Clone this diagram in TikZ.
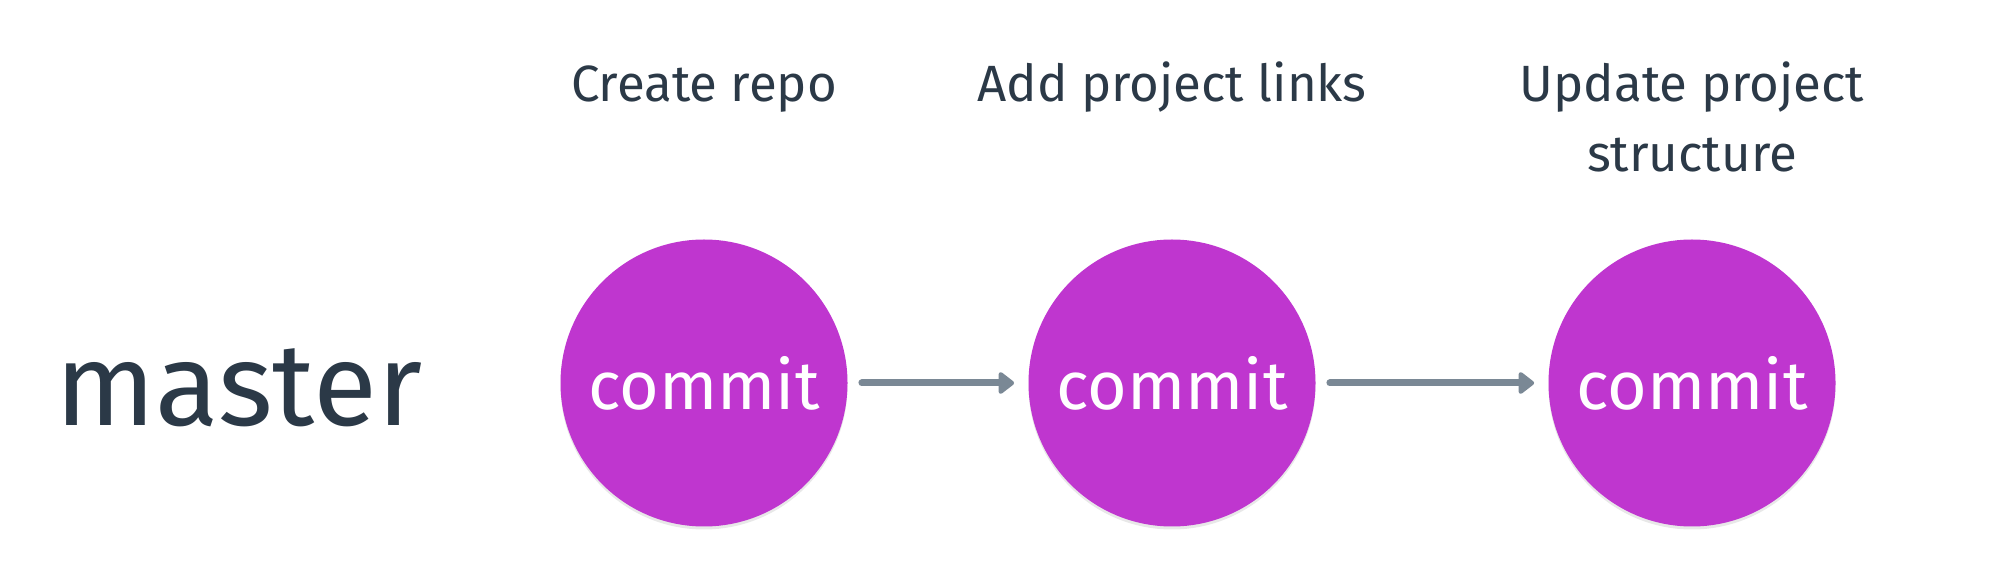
\documentclass[tikz,border=0pt]{standalone}
\usepackage{fontspec}
\setmainfont{Fira Sans}
\usetikzlibrary{arrows.meta,shadows}
\definecolor{commitpurple}{HTML}{BF36CF}
\definecolor{inkdark}{HTML}{2B3947}
\definecolor{arrowgray}{HTML}{7A8895}
\begin{document}
\begin{tikzpicture}[x=0.5pt,y=-0.5pt,
  commitnode/.style={circle,fill=commitpurple,minimum size=143.5pt,inner sep=0pt,
    text=white,font=\fontsize{34}{40}\selectfont,
    drop shadow={opacity=0.18,shadow xshift=0pt,shadow yshift=-1.5pt}},
  labeltext/.style={text=inkdark,font=\fontsize{25.5}{35}\selectfont,align=center,anchor=base,inner sep=0pt},
  branchtext/.style={text=inkdark,font=\fontsize{58.5}{62}\selectfont,anchor=base west,inner sep=0pt},
  link/.style={draw=arrowgray,line width=3.5pt,line cap=round,shorten <=7pt,shorten >=7pt,
    -{Triangle[length=8.5pt,width=12.5pt,round]}}]
\useasboundingbox (0,0) rectangle (1996,576);
\node[branchtext] (master) at (55,426) {master};
\node[commitnode] (c1) at (704,383) {commit};
\node[commitnode] (c2) at (1172,383) {commit};
\node[commitnode] (c3) at (1692,383) {commit};
\node[labeltext] (l1) at (704,102) {Create repo};
\node[labeltext] (l2) at (1172,102) {Add project links};
\node[labeltext] (l3) at (1692,172) {Update project\\structure};
\draw[link] (c1) -- (c2);
\draw[link] (c2) -- (c3);
\end{tikzpicture}
\end{document}
